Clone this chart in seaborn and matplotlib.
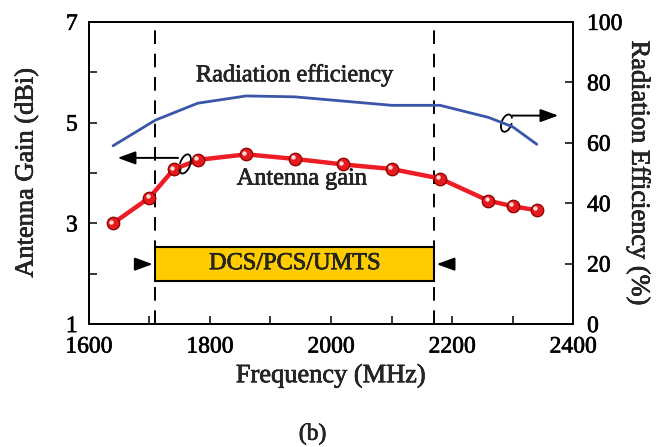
import numpy as np
import pandas as pd
import matplotlib
matplotlib.use("Agg")
import matplotlib.pyplot as plt
import matplotlib.transforms as mtransforms
import matplotlib.patheffects as pe
from matplotlib.patches import Rectangle, Arc
import seaborn as sns

# ---- data ----
gain_freq = [1640, 1700, 1740, 1780, 1860, 1940, 2020, 2100, 2180, 2260, 2300, 2340]
gain_dbi = [3.00, 3.51, 4.07, 4.26, 4.37, 4.28, 4.17, 4.08, 3.89, 3.45, 3.34, 3.26]
eff_freq = [1640, 1710, 1780, 1860, 1940, 2020, 2100, 2180, 2260, 2300, 2340]
eff_pct = [59.0, 67.5, 73.1, 75.5, 75.2, 73.8, 72.4, 72.4, 68.4, 65.3, 59.5]
band_edges = [1710, 2170]
band_label = "DCS/PCS/UMTS"
x_ticks = [1600, 1800, 2000, 2200, 2400]
y_left_ticks = [1, 3, 5, 7]
y_right_ticks = [0, 20, 40, 60, 80, 100]

sns.set_theme(style="ticks")
plt.rcParams['font.family'] = ['Liberation Serif', 'DejaVu Serif']
plt.rcParams['axes.linewidth'] = 1.3

heavy = [pe.withStroke(linewidth=0.45, foreground="black")]

fig = plt.figure(figsize=(6.68, 4.47), dpi=100)
ax = fig.add_axes([0.133, 0.275, 0.725, 0.676])
ax2 = ax.twinx()

gain_df = pd.DataFrame({"f": gain_freq, "g": gain_dbi})
eff_df = pd.DataFrame({"f": eff_freq, "e": eff_pct})

sns.lineplot(data=gain_df, x="f", y="g", ax=ax, color="#EE1C24", lw=3.2,
             marker="o", markersize=9, markerfacecolor="#E41A1C",
             markeredgecolor="#8B0000", markeredgewidth=0.9, zorder=5)
hl = mtransforms.offset_copy(ax.transData, fig, x=-1.3, y=1.3, units='points')
ax.plot(gain_freq, gain_dbi, 'o', ms=3.2, color='white', alpha=0.85,
        mec='none', transform=hl, zorder=6)

sns.lineplot(data=eff_df, x="f", y="e", ax=ax2, color="#3A56A8", lw=2.0)

# band edges
for b in band_edges:
    ax.axvline(b, color="black", lw=1.4, ls=(0, (7, 5)), zorder=2)

rect = Rectangle((band_edges[0], 1.86), band_edges[1] - band_edges[0], 0.675,
                 facecolor="#FFCC00", edgecolor="black", lw=1.5, zorder=4)
ax.add_patch(rect)
ax.text(sum(band_edges) / 2, 2.2, band_label, ha="center", va="center",
        fontsize=17.5, zorder=7, path_effects=heavy)

arrowkw = dict(arrowstyle="-|>,head_length=0.9,head_width=0.33", color="black", lw=1.4)
ax.annotate("", xy=(band_edges[0], 2.19), xytext=(1676, 2.19), arrowprops=arrowkw, zorder=7)
ax.annotate("", xy=(band_edges[1], 2.19), xytext=(2202, 2.19), arrowprops=arrowkw, zorder=7)

# axis-pointing arrows
ax.annotate("", xy=(1643, 4.30), xytext=(1752, 4.30), arrowprops=arrowkw, zorder=7)
ax.annotate("", xy=(2380, 5.14), xytext=(2295, 5.14), arrowprops=arrowkw, zorder=7)

# little loops
def loop(xd, yd, w, h, ang, t1, t2):
    tr = fig.dpi_scale_trans + mtransforms.ScaledTranslation(xd, yd, ax.transData)
    ax.add_patch(Arc((0, 0), w, h, angle=ang, theta1=t1, theta2=t2,
                     transform=tr, color="black", lw=1.3, zorder=7))

loop(1759, 4.18, 0.10, 0.20, -20, -120, 200)
loop(2290, 4.99, 0.10, 0.18, -20, 60, 380)

ax.text(1940, 5.93, "Radiation efficiency", ha="center", va="center",
        fontsize=17.5, path_effects=heavy)
ax.text(1952, 3.88, "Antenna gain", ha="center", va="center",
        fontsize=17.5, path_effects=heavy)

ax.set_xlim(1600, 2400)
ax.set_ylim(1, 7)
ax2.set_ylim(0, 100)
ax.set_xticks(x_ticks)
ax.set_xticks(np.arange(1700, 2400, 200), minor=True)
ax.set_yticks(y_left_ticks)
ax.set_yticks([2, 4, 6], minor=True)
ax2.set_yticks(y_right_ticks)

for a in (ax, ax2):
    a.tick_params(which="both", direction="in", length=6, width=1.1,
                  labelsize=17, colors="black", pad=8)
ax.tick_params(axis="y", which="both", right=False)
ax.tick_params(axis="x", which="both", top=False, pad=9)
ax2.tick_params(axis="y", pad=10)

ax.set_xlabel("Frequency (MHz)", fontsize=19, labelpad=5, path_effects=heavy)
ax.set_ylabel("Antenna Gain (dBi)", fontsize=19, labelpad=20, path_effects=heavy)
ax2.set_ylabel("Radiation Efficiency (%)", fontsize=19, rotation=270, labelpad=20,
               path_effects=heavy)
ax2.set_xlabel("")

for a in (ax, ax2):
    for t in a.get_xticklabels() + a.get_yticklabels():
        t.set_path_effects(heavy)
    for s in a.spines.values():
        s.set_color("black")
        s.set_linewidth(1.3)

fig.text(0.468, 0.005, "(b)", ha="center", va="bottom", fontsize=17, path_effects=heavy)

fig.savefig("out.png", dpi=100)
